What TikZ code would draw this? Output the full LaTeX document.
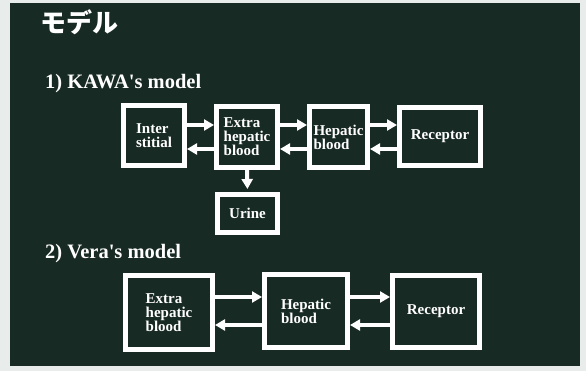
\documentclass[tikz,border=0pt]{standalone}
\usepackage{fontspec}
\setmainfont{Liberation Serif}
\newfontfamily\cjk{Noto Sans CJK JP}
\usetikzlibrary{arrows.meta}
\definecolor{panel}{RGB}{24,42,36}
\definecolor{paper}{RGB}{232,236,234}
\tikzset{
  box/.style={draw=white, line width=5pt, text=white, align=left,
    font=\bfseries\fontsize{15}{14}\selectfont, inner sep=0pt},
  arr/.style={draw=white, line width=4pt,
    -{Triangle[length=10pt,width=11pt]}},
  hdr/.style={text=white, anchor=base west, inner sep=0pt,
    font=\bfseries\fontsize{20.5}{22}\selectfont}
}
\begin{document}
\begin{tikzpicture}[x=1pt,y=-1pt]
\useasboundingbox (0,0) rectangle (586,371);
\fill[paper] (0,0) rectangle (586,371);
\fill[panel] (10,3) rectangle (580,366);
\node[text=white, inner sep=0pt, font=\cjk\bfseries\fontsize{26}{28}\selectfont] (title) at (79,22) {モデル};
\node[hdr] (h1) at (45,89) {1) KAWA\textquotesingle s model};
\node[hdr] (h2) at (45,259) {2) Vera\textquotesingle s model};
% KAWA's model
\node[box, minimum width=61pt, minimum height=60pt] (inter) at (154,135.5) {Inter\\stitial};
\node[box, minimum width=61pt, minimum height=61pt] (extra) at (247,137) {Extra\\hepatic\\blood};
\node[box, minimum width=58pt, minimum height=61pt] (hep) at (338.5,137) {Hepatic\\blood};
\node[box, minimum width=81pt, minimum height=58pt] (rec) at (440,136.5) {Receptor};
\node[box, minimum width=60pt, minimum height=38pt] (urine) at (247.5,213.5) {Urine};
\draw[arr] (inter.east |- 0,125) -- (extra.west |- 0,125);
\draw[arr] (extra.west |- 0,149) -- (inter.east |- 0,149);
\draw[arr] (extra.east |- 0,125) -- (hep.west |- 0,125);
\draw[arr] (hep.west |- 0,149) -- (extra.east |- 0,149);
\draw[arr] (hep.east |- 0,125) -- (rec.west |- 0,125);
\draw[arr] (rec.west |- 0,149) -- (hep.east |- 0,149);
\draw[arr, shorten >=3pt] (extra.south) -- (urine.north);
% Vera's model
\node[box, minimum width=87pt, minimum height=74pt] (vex) at (169,312.5) {Extra\\hepatic\\blood};
\node[box, minimum width=83pt, minimum height=73pt] (vhep) at (306,311) {Hepatic\\blood};
\node[box, minimum width=87pt, minimum height=72pt] (vrec) at (436,311.5) {Receptor};
\draw[arr] (vex.east |- 0,297) -- (vhep.west |- 0,297);
\draw[arr] (vhep.west |- 0,325) -- (vex.east |- 0,325);
\draw[arr] (vhep.east |- 0,297) -- (vrec.west |- 0,297);
\draw[arr] (vrec.west |- 0,325) -- (vhep.east |- 0,325);
\end{tikzpicture}
\end{document}
